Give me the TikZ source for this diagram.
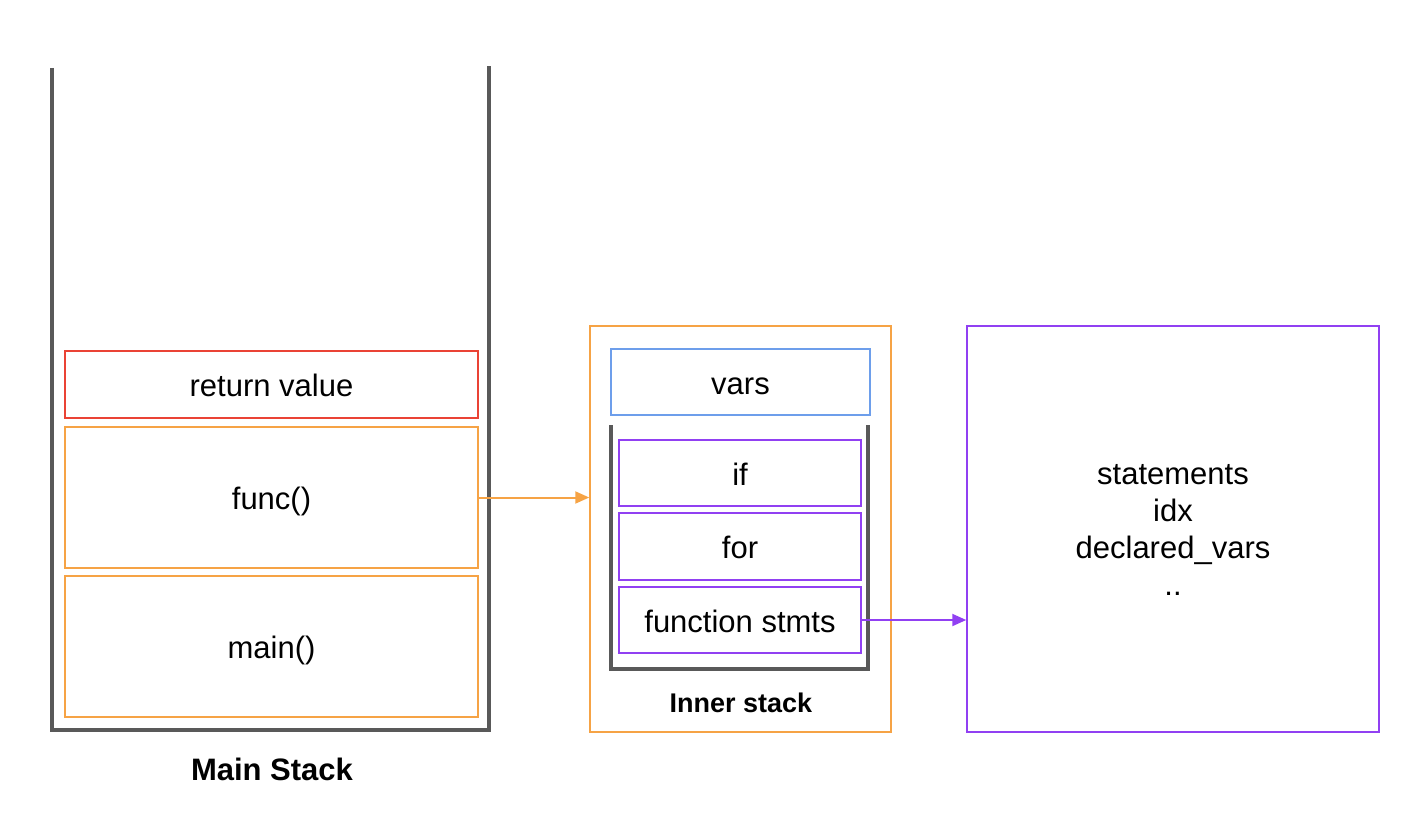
\documentclass[tikz,border=0pt]{standalone}
\usepackage{fontspec}
\setmainfont{Liberation Sans}
\usetikzlibrary{arrows.meta}
\definecolor{stackgray}{HTML}{595959}
\definecolor{myred}{HTML}{EA4335}
\definecolor{myorange}{HTML}{F6A345}
\definecolor{myblue}{HTML}{6D9EEB}
\definecolor{mypurple}{HTML}{9140F2}
\begin{document}
\begin{tikzpicture}[x=1pt,y=-1pt,
  box/.style={draw, line width=1.5pt, inner sep=0pt, font=\fontsize{31}{37}\selectfont, align=center, text height=24pt, text depth=0pt},
  stackline/.style={draw=stackgray, line width=4pt},
  conn/.style={line width=2pt, -{Triangle[length=14pt,width=12pt]}},
  caption/.style={font=\fontsize{31}{37}\selectfont\bfseries, inner sep=0pt}]
\useasboundingbox (0,0) rectangle (1418,816);
% main stack
\draw[stackline] (52,68) -- (52,730) -- (489,730) -- (489,66);
\node[box, draw=myred, minimum width=413pt, minimum height=67pt] (ret) at (271.5,384.5) {return value};
\node[box, draw=myorange, minimum width=413pt, minimum height=141pt] (func) at (271.5,497.5) {func()};
\node[box, draw=myorange, minimum width=413pt, minimum height=141pt] (main) at (271.5,646.5) {main()};
\node[caption] (mlab) at (272,769) {Main Stack};
% inner
\node[box, draw=myorange, minimum width=301pt, minimum height=406pt] (inner) at (740.5,529) {};
\node[box, draw=myblue, minimum width=259pt, minimum height=66pt] (vars) at (740.5,382) {vars};
\draw[stackline] (611,425) -- (611,669) -- (868,669) -- (868,425);
\node[box, draw=mypurple, minimum width=242pt, minimum height=66pt] (if) at (740,473) {if};
\node[box, draw=mypurple, minimum width=242pt, minimum height=67pt] (for) at (740,546.5) {for};
\node[box, draw=mypurple, minimum width=242pt, minimum height=66pt] (fs) at (740,620) {function stmts};
\node[caption, font=\fontsize{27}{32}\selectfont\bfseries] (ilab) at (741,703) {Inner stack};
% right box
\node[box, draw=mypurple, minimum width=412pt, minimum height=406pt] (right) at (1173,529) {};
\node[font=\fontsize{31}{37}\selectfont, align=center, inner sep=0pt] (rtext) at (1173,530) {statements\\idx\\declared\_vars\\..};
% connectors
\draw[conn, myorange] (func.east) -- (func.east -| inner.west);
\draw[conn, mypurple] (fs.east) -- (fs.east -| right.west);
\end{tikzpicture}
\end{document}
